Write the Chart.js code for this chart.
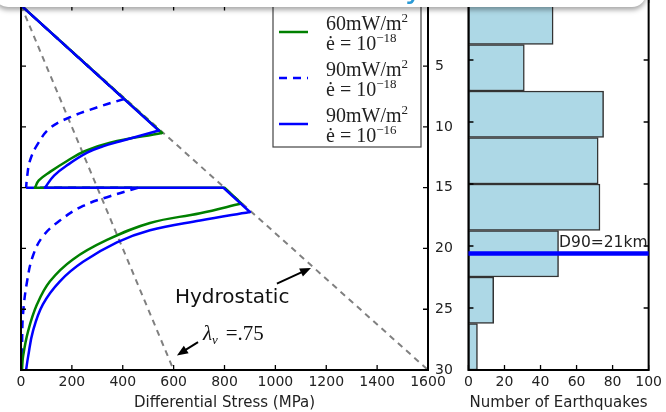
<!DOCTYPE html>
<html lang="en">
<head>
<meta charset="UTF-8">
<title>Strength envelopes and seismicity</title>
<script src="https://cdn.jsdelivr.net/npm/chart.js"></script>
<style>
  html, body { margin: 0; padding: 0; background: #fff; overflow: hidden; }
  body { width: 666px; height: 412px; position: relative; font-family: 'DejaVu Sans', sans-serif; }
  canvas { position: absolute; top: -10px; }
  #stress { left: 0; }
  #quakes { left: 460px; }
  #banner {
    position: absolute; left: -6px; top: -40px; width: 652px; height: 47px;
    background: #fff; border-radius: 14px; box-shadow: 0 3px 5px rgba(0,0,0,0.35); z-index: 5;
  }
  #banner span.t {
    position: absolute; left: 266px; top: 13px; font-size: 32px; line-height: 26px;
    color: #a6dbf0; white-space: nowrap;
  }
  #banner span.y { color: #2a9ad6; }
</style>
</head>
<body>
<canvas id="stress" width="460" height="422"></canvas>
<canvas id="quakes" width="206" height="422"></canvas>
<div id="banner"><span class="t">Seismicit<span class="y">y</span></span></div>

<script>
// tick labels
const stressTicks = [0, 200, 400, 600, 800, 1000, 1200, 1400, 1600];
const depthTicks  = [0, 5, 10, 15, 20, 25, 30];
const countTicks  = [0, 20, 40, 60, 80, 100];

// reference lines, [stress MPa, depth km]
const hydroLine  = [[0, 0], [1600, 30]];
const lambdaLine = [[0, 0], [600, 30]];

// 60 mW/m2, strain rate 1e-18
const g60Brittle = [[0, 0], [554, 10.5]];
const g60Crust   = [[554, 10.5], [350, 11.3], [250, 12.0], [181, 12.8], [114, 13.7], [70, 14.4], [55, 15.0]];
const g60Moho    = [[55, 15.0], [800, 15.0], [866, 16.3]];
const g60Mantle  = [[866, 16.3], [704, 17.1], [507, 17.9], [338, 19.3], [204, 20.9], [114, 22.7], [63, 24.6], [28, 26.8], [8, 28.9], [4, 30]];

// 90 mW/m2, strain rate 1e-18 (dashed)
const b18Brittle = [[0, 0], [405, 7.7]];
const b18Crust   = [[405, 7.7], [298, 8.4], [193, 9.2], [114, 10.1], [63, 11.5], [35, 12.8], [24, 14.1], [20, 15.0]];
const b18Moho    = [[20, 15.0], [460, 15.0]];
const b18Mantle  = [[460, 15.0], [350, 15.7], [244, 16.5], [153, 17.7], [86, 19.0], [47, 20.6], [24, 22.7], [8, 25.4], [4, 28.1], [2, 30]];

// 90 mW/m2, strain rate 1e-16
const b16Brittle = [[0, 0], [542, 10.3]];
const b16Crust   = [[542, 10.3], [387, 11.2], [322, 11.6], [262, 12.1], [185, 13.1], [130, 14.0], [94, 15.0]];
const b16Moho    = [[94, 15.0], [795, 15.0], [900, 17.0]];
const b16Mantle  = [[900, 17.0], [704, 17.7], [507, 18.5], [377, 19.5], [244, 21.1], [153, 22.7], [86, 24.6], [47, 26.8], [28, 28.9], [20, 30]];

// earthquake histogram
const binEdges    = [0, 3.75, 7.5, 11.25, 15, 18.75, 22.5, 26.25, 30];
const quakeCounts = [47, 31, 75, 72, 73, 50, 14, 5];
const d90Depth = 20.6;

// legend
const heatFlows  = ['60', '90', '90'];
const strainExps = ['\u221218', '\u221218', '\u221216'];
const legendColors = ['#008000', '#0000ff', '#0000ff'];
const legendDashes = [[], [8, 6], []];

const GREEN = '#008000', BLUE = '#0000ff', GREY = '#808080';

function seg(points, color, dash, tension, order) {
  return {
    data: points.map(p => ({ x: p[0], y: p[1] })),
    showLine: true, pointRadius: 0, fill: false,
    borderColor: color, borderWidth: 2.5, borderDash: dash,
    borderCapStyle: dash.length ? 'butt' : 'round', borderJoinStyle: 'round',
    tension: tension, order: order
  };
}

function setTicks(list) {
  return s => { s.ticks = list.map(v => ({ value: v })); };
}

const tickFont = { family: 'DejaVu Sans', size: 14 };
const titleFont = { family: 'DejaVu Sans', size: 15 };

function frame(xList, yList) {
  return {
    id: 'frame',
    afterDatasetsDraw(chart) {
      const { ctx, chartArea: a } = chart;
      const xs = chart.scales.x, ys = chart.scales.y;
      ctx.save();
      ctx.strokeStyle = '#000';
      ctx.lineWidth = 1.3;
      ctx.beginPath();
      xList.forEach(v => {
        const px = xs.getPixelForValue(v);
        ctx.moveTo(px, a.bottom); ctx.lineTo(px, a.bottom - 5);
        ctx.moveTo(px, a.top); ctx.lineTo(px, a.top + 5);
      });
      yList.forEach(v => {
        const py = ys.getPixelForValue(v);
        ctx.moveTo(a.left, py); ctx.lineTo(a.left + 5, py);
        ctx.moveTo(a.right, py); ctx.lineTo(a.right - 5, py);
      });
      ctx.stroke();
      ctx.lineWidth = 2;
      ctx.strokeRect(a.left, a.top, a.right - a.left, a.bottom - a.top);
      ctx.restore();
    }
  };
}

function arrow(ctx, x0, y0, x1, y1) {
  const ang = Math.atan2(y1 - y0, x1 - x0), L = 11, W = 4.5;
  const c = Math.cos(ang), s = Math.sin(ang);
  ctx.beginPath();
  ctx.moveTo(x0, y0);
  ctx.lineTo(x1 - L * 0.8 * c, y1 - L * 0.8 * s);
  ctx.stroke();
  ctx.beginPath();
  ctx.moveTo(x1, y1);
  ctx.lineTo(x1 - L * c + W * s, y1 - L * s - W * c);
  ctx.lineTo(x1 - L * c - W * s, y1 - L * s + W * c);
  ctx.closePath();
  ctx.fill();
}

function rich(ctx, x, y, parts) {
  parts.forEach(p => {
    ctx.font = p.font;
    ctx.fillText(p.t, x, y + (p.dy || 0));
    x += ctx.measureText(p.t).width + (p.gap || 0);
  });
}

const annotations = {
  id: 'notes',
  afterDraw(chart) {
    const { ctx } = chart;
    const xs = chart.scales.x, ys = chart.scales.y;
    ctx.save();
    ctx.fillStyle = '#000';
    ctx.strokeStyle = '#000';
    ctx.lineWidth = 2;
    arrow(ctx, xs.getPixelForValue(1006), ys.getPixelForValue(22.9), xs.getPixelForValue(1140), ys.getPixelForValue(21.6));
    arrow(ctx, xs.getPixelForValue(696), ys.getPixelForValue(27.7), xs.getPixelForValue(613), ys.getPixelForValue(28.8));
    ctx.textBaseline = 'alphabetic';
    ctx.fillStyle = '#111';
    ctx.font = '20px "DejaVu Sans"';
    ctx.fillText('Hydrostatic', xs.getPixelForValue(605), ys.getPixelForValue(24.5));
    const lx = xs.getPixelForValue(715), ly = ys.getPixelForValue(27.5);
    rich(ctx, lx, ly, [
      { t: '\u03bb', font: 'italic 21px "Liberation Serif"' },
      { t: 'v', font: 'italic 13px "Liberation Serif"', dy: 4, gap: 8 },
      { t: '=.75', font: '21px "Liberation Serif"' }
    ]);

    // legend box
    const bx = 273, by = 10, bw = 148, bh = 147;
    ctx.fillStyle = '#fff';
    ctx.fillRect(bx, by, bw, bh);
    ctx.strokeStyle = '#444';
    ctx.lineWidth = 1.2;
    ctx.strokeRect(bx, by, bw, bh);
    heatFlows.forEach((hf, i) => {
      const yLine = 42 + i * 46;
      ctx.strokeStyle = legendColors[i];
      ctx.lineWidth = 2.5;
      ctx.setLineDash(legendDashes[i]);
      ctx.beginPath();
      ctx.moveTo(279, yLine); ctx.lineTo(308, yLine);
      ctx.stroke();
      ctx.setLineDash([]);
      ctx.fillStyle = '#222';
      rich(ctx, 326, 40 + i * 46, [
        { t: hf + 'mW/m', font: '20px "Liberation Serif"' },
        { t: '2', font: '13px "Liberation Serif"', dy: -8 }
      ]);
      rich(ctx, 326, 60 + i * 46, [
        { t: '\u0117 = 10', font: '20px "Liberation Serif"' },
        { t: strainExps[i], font: '13px "Liberation Serif"', dy: -8 }
      ]);
    });
    ctx.restore();
  }
};

new Chart(document.getElementById('stress'), {
  type: 'scatter',
  data: {
    datasets: [
      seg(b16Brittle, BLUE, [], 0, 1),
      seg(b16Crust, BLUE, [], 0.4, 1),
      seg(b16Moho, BLUE, [], 0, 1),
      seg(b16Mantle, BLUE, [], 0.4, 1),
      seg(g60Brittle, GREEN, [], 0, 2),
      seg(g60Crust, GREEN, [], 0.4, 2),
      seg(g60Moho, GREEN, [], 0, 2),
      seg(g60Mantle, GREEN, [], 0.4, 2),
      seg(b18Brittle, BLUE, [8, 6], 0, 3),
      seg(b18Crust, BLUE, [8, 6], 0.4, 3),
      seg(b18Moho, BLUE, [8, 6], 0, 3),
      seg(b18Mantle, BLUE, [8, 6], 0.4, 3),
      Object.assign(seg(hydroLine, GREY, [6, 5], 0, 4), { borderWidth: 2 }),
      Object.assign(seg(lambdaLine, GREY, [6, 5], 0, 4), { borderWidth: 2 })
    ]
  },
  options: {
    responsive: false,
    animation: false,
    events: [],
    layout: { padding: { left: 21, top: 8, right: 0, bottom: 0 } },
    plugins: { legend: { display: false }, tooltip: { enabled: false } },
    scales: {
      x: {
        type: 'linear', min: 0, max: 1600,
        afterBuildTicks: setTicks(stressTicks),
        ticks: { font: tickFont, color: '#222', padding: 4, autoSkip: false, maxRotation: 0, callback: v => String(v) },
        grid: { display: false, drawTicks: false },
        border: { display: false },
        title: { display: true, text: 'Differential Stress (MPa)', font: titleFont, color: '#222', padding: { top: 0, bottom: 0 } },
        afterFit: s => { s.height = 42; }
      },
      y: {
        type: 'linear', position: 'right', reverse: true, min: 0, max: 30,
        afterBuildTicks: setTicks(depthTicks),
        ticks: { font: tickFont, color: '#222', padding: 7, crossAlign: 'near', autoSkip: false, callback: v => (v === 0 ? '' : String(v)) },
        grid: { display: false, drawTicks: false },
        border: { display: false },
        afterFit: s => { s.width = 32; }
      }
    }
  },
  plugins: [frame(stressTicks, depthTicks), annotations]
});

const d90 = {
  id: 'd90',
  afterDatasetsDraw(chart) {
    const { ctx, chartArea: a } = chart;
    const py = chart.scales.y.getPixelForValue(d90Depth);
    ctx.save();
    ctx.strokeStyle = BLUE;
    ctx.lineWidth = 4.5;
    ctx.beginPath();
    ctx.moveTo(a.left, py); ctx.lineTo(a.right, py);
    ctx.stroke();
    ctx.fillStyle = '#222';
    ctx.font = '15.5px "DejaVu Sans"';
    ctx.textBaseline = 'alphabetic';
    ctx.fillText('D90=21km', chart.scales.x.getPixelForValue(50.3), py - 6);
    ctx.restore();
  }
};

new Chart(document.getElementById('quakes'), {
  type: 'bar',
  data: {
    datasets: [{
      data: quakeCounts.map((c, i) => ({ x: c, y: (binEdges[i] + binEdges[i + 1]) / 2 })),
      backgroundColor: '#add8e6',
      borderColor: '#333',
      borderWidth: 1.5,
      borderSkipped: false,
      barPercentage: 1,
      categoryPercentage: 1
    }]
  },
  options: {
    indexAxis: 'y',
    responsive: false,
    animation: false,
    events: [],
    layout: { padding: { left: 7, top: 8, right: 14, bottom: 0 } },
    plugins: { legend: { display: false }, tooltip: { enabled: false } },
    scales: {
      x: {
        type: 'linear', min: 0, max: 100,
        afterBuildTicks: setTicks(countTicks),
        ticks: { font: tickFont, color: '#222', padding: 4, autoSkip: false, maxRotation: 0, callback: v => String(v) },
        grid: { display: false, drawTicks: false },
        border: { display: false },
        title: { display: true, text: 'Number of Earthquakes', font: titleFont, color: '#222', padding: { top: 0, bottom: 0 } },
        afterFit: s => { s.height = 42; }
      },
      y: {
        type: 'linear', min: 0, max: 30, reverse: true, offset: false, display: false,
        afterBuildTicks: setTicks(depthTicks)
      }
    }
  },
  plugins: [frame(countTicks, depthTicks), d90]
});
</script>
</body>
</html>
